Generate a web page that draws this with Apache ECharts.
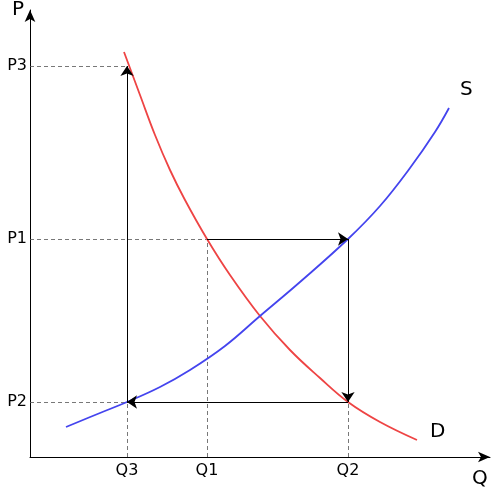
<!DOCTYPE html>
<html><head><meta charset="utf-8">
<script src="https://cdn.jsdelivr.net/npm/echarts@6/dist/echarts.min.js"></script>
<style>html,body{margin:0;padding:0;background:#fff}#c{width:501px;height:496px}</style>
</head><body><div id="c"></div>
<script>
const Q = {Q3: 97, Q1: 177, Q2: 318};
const P = {P3: 391, P1: 218, P2: 55};
const demand = [[94,405],[110,362],[125,322],[140,287],[155,257],[177,218],[200,182],[230,141],[260,107],[290,79],[318,55],[350,35],[387,17]];
const supply = [[36,30],[70,44],[97,55],[130,70],[160,87],[195,111],[230,141],[270,175],[318,218],[350,251],[380,289],[405,325],[419,349]];
const xTicks = ['Q3','Q1','Q2'];
const yTicks = ['P3','P1','P2'];

const chart = echarts.init(document.getElementById('c'));
const dash = {color:'#555', type:[4,3], width:0.8, opacity:1};
const solid = {color:'#000', width:1, opacity:1};
const qv = xTicks.map(k=>Q[k]), pv = yTicks.map(k=>P[k]);
const xName = v => xTicks.find(k=>Q[k]===v) || '';
const yName = v => yTicks.find(k=>P[k]===v) || '';
chart.setOption({
  animation:false,
  grid:{left:30,right:11,top:10,bottom:39},
  xAxis:{type:'value',min:0,max:460,
    name:'Q',nameLocation:'end',nameGap:-18,nameTextStyle:{fontSize:20,color:'#000',verticalAlign:'top',padding:[12,0,0,0],fontFamily:'DejaVu Sans'},
    axisLine:{lineStyle:{color:'#000',width:1},symbol:['none','arrow'],symbolSize:[8,12]},
    splitLine:{show:false},axisTick:{show:false},
    axisLabel:{customValues:qv,formatter:xName,fontSize:16,color:'#000',margin:6,fontFamily:'DejaVu Sans'}},
  yAxis:{type:'value',min:0,max:447,
    name:'P',nameLocation:'end',nameGap:-10,nameTextStyle:{fontSize:20,color:'#000',align:'right',padding:[0,6,0,0],fontFamily:'DejaVu Sans'},
    axisLine:{lineStyle:{color:'#000',width:1},symbol:['none','arrow'],symbolSize:[8,12]},
    splitLine:{show:false},axisTick:{show:false},
    axisLabel:{customValues:pv,formatter:yName,fontSize:16,color:'#000',margin:3,fontFamily:'DejaVu Sans'}},
  series:[
    {type:'lines',coordinateSystem:'cartesian2d',silent:true,lineStyle:dash,symbol:'none',
      data:[
        {coords:[[0,P.P3],[Q.Q3,P.P3]]},
        {coords:[[0,P.P1],[Q.Q1,P.P1]]},
        {coords:[[0,P.P2],[Q.Q3,P.P2]]},
        {coords:[[Q.Q3,0],[Q.Q3,P.P2]]},
        {coords:[[Q.Q1,0],[Q.Q1,P.P1]]},
        {coords:[[Q.Q2,0],[Q.Q2,P.P2]]}
      ]},
    {type:'line',data:demand,smooth:0.4,showSymbol:false,lineStyle:{color:'#ee4444',width:1.8},z:3},
    {type:'line',data:supply,smooth:0.4,showSymbol:false,lineStyle:{color:'#4444ee',width:1.8},z:3},
    {type:'lines',coordinateSystem:'cartesian2d',silent:true,lineStyle:solid,symbol:['none','arrow'],symbolSize:10,itemStyle:{opacity:1,color:'#000'},z:4,
      data:[
        {coords:[[Q.Q3,P.P2],[Q.Q3,P.P3]]},
        {coords:[[Q.Q1,P.P1],[Q.Q2,P.P1]]},
        {coords:[[Q.Q2,P.P1],[Q.Q2,P.P2]]},
        {coords:[[Q.Q2,P.P2],[Q.Q3,P.P2]]}
      ]}
  ],
  graphic:[
    {type:'text',left:460,top:80,style:{text:'S',fontSize:20,fill:'#000',fontFamily:'DejaVu Sans'}},
    {type:'text',left:430,top:422,style:{text:'D',fontSize:20,fill:'#000',fontFamily:'DejaVu Sans'}}
  ]
});
</script></body></html>
